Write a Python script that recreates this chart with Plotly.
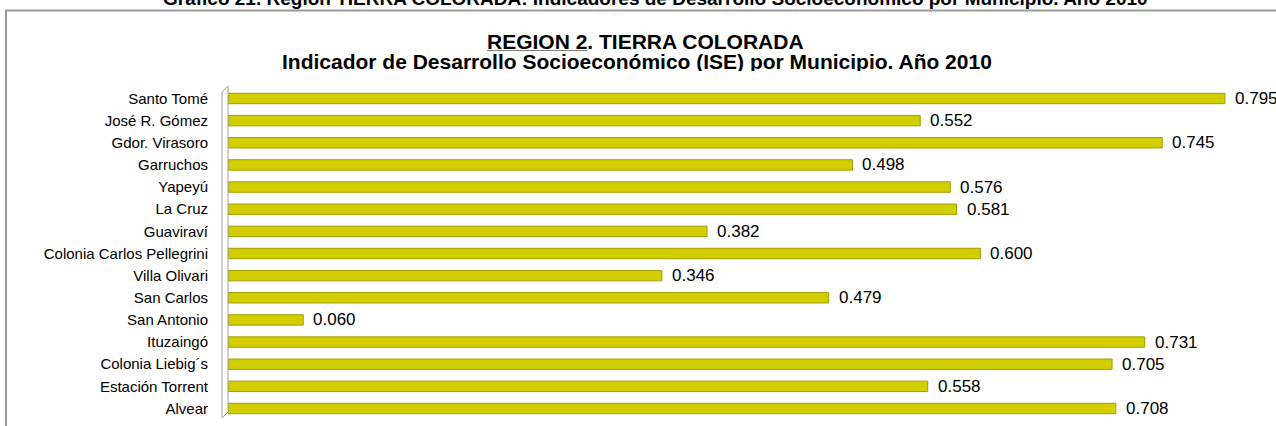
import plotly.graph_objects as go

municipios = ["Santo Tomé", "José R. Gómez", "Gdor. Virasoro", "Garruchos", "Yapeyú",
              "La Cruz", "Guaviraví", "Colonia Carlos Pellegrini", "Villa Olivari",
              "San Carlos", "San Antonio", "Ituzaingó", "Colonia Liebig´s",
              "Estación Torrent", "Alvear"]
ise = [0.795, 0.552, 0.745, 0.498, 0.576, 0.581, 0.382, 0.600, 0.346,
       0.479, 0.060, 0.731, 0.705, 0.558, 0.708]

W, H = 1276, 426
L, R, T, B = 228, 0, 87, 6
PW, PH = W - L - R, H - T - B

def px(x):
    return (x - L) / PW

def py(y):
    return (H - B - y) / PH

FONT = "Liberation Sans, Arial"

fig = go.Figure()
fig.add_trace(go.Bar(
    y=municipios, x=ise, orientation="h",
    marker=dict(color="#D2CE00", line=dict(color="#A29E00", width=1)),
    width=0.47,
    hoverinfo="x+y",
))

annotations = []
for m, v in zip(municipios, ise):
    annotations.append(dict(x=v, y=m, xref="x", yref="y", text=f"{v:.3f}",
                            showarrow=False, xanchor="left", xshift=8, yshift=0,
                            font=dict(family=FONT, size=17, color="#000")))

annotations += [
    dict(x=px(655), y=py(-1.5), xref="paper", yref="paper", yanchor="middle",
         text="<b>Gráfico 21. Región TIERRA COLORADA: Indicadores de Desarrollo Socioeconómico por Municipio. Año 2010</b>",
         showarrow=False, font=dict(family=FONT, size=19, color="#000")),
    dict(x=px(645), y=py(40.5), xref="paper", yref="paper", yanchor="middle",
         height=20, valign="middle",
         text="<b><u>REGION 2</u>. TIERRA COLORADA</b>",
         showarrow=False, font=dict(family=FONT, size=21, color="#000")),
    dict(x=px(637), y=py(61), xref="paper", yref="paper", yanchor="middle",
         height=20, valign="middle",
         text="<b>Indicador de Desarrollo Socioeconómico (ISE) por Municipio. Año 2010</b>",
         showarrow=False, font=dict(family=FONT, size=21, color="#000")),
]

grey = "#A0A0A0"
shapes = [
    # outer frame
    dict(type="line", xref="paper", yref="paper", x0=px(6), y0=py(432), x1=px(6), y1=py(10.5),
         line=dict(color="#9A9A9A", width=2)),
    dict(type="line", xref="paper", yref="paper", x0=px(5), y0=py(10.5), x1=px(1280), y1=py(10.5),
         line=dict(color="#9A9A9A", width=2)),
    # 3D wall
    dict(type="path", xref="paper", yref="paper",
         path=f"M {px(222)},{py(418)} L {px(222)},{py(92)} L {px(228)},{py(86)} L {px(228)},{py(412)} Z",
         line=dict(color=grey, width=1), fillcolor="rgba(255,255,255,0)"),
]

fig.update_layout(
    width=W, height=H,
    margin=dict(l=L, r=R, t=T, b=B),
    paper_bgcolor="white", plot_bgcolor="white",
    showlegend=False,
    bargap=0.53,
    xaxis=dict(range=[0, PW / 1254], visible=False, fixedrange=True),
    yaxis=dict(categoryorder="array", categoryarray=municipios, autorange="reversed",
               showline=False, showgrid=False, ticks="", ticklabelstandoff=19,
               fixedrange=True,
               tickfont=dict(family=FONT, size=15, color="#000")),
    annotations=annotations,
    shapes=shapes,
)

fig.write_html("out.html",
               config={"displayModeBar": False},
               post_script="document.body.style.margin='0';document.body.style.overflow='hidden';")
